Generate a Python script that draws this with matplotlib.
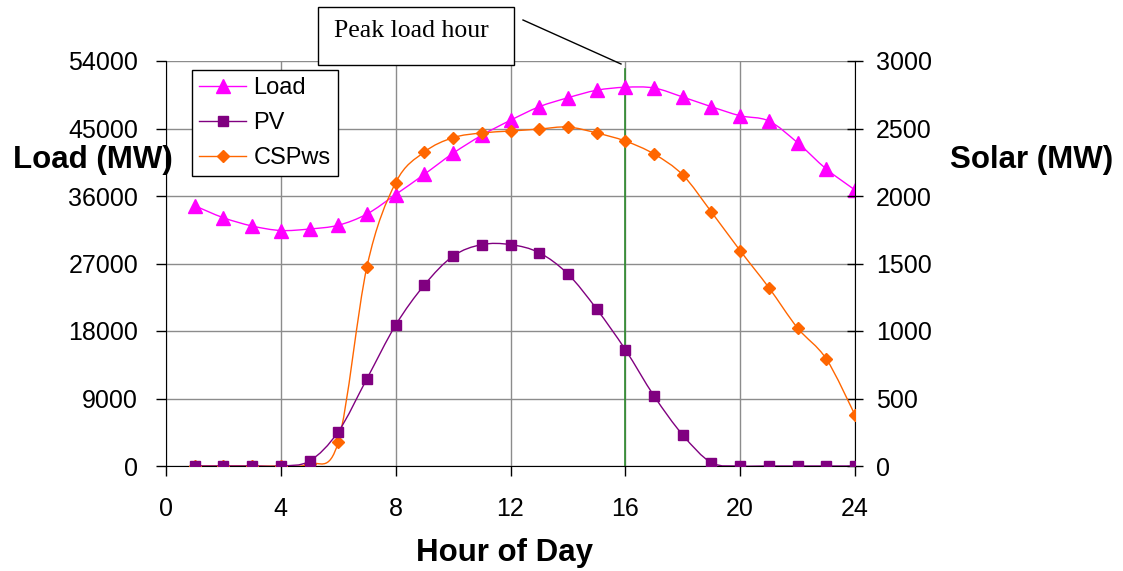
import numpy as np
import matplotlib.pyplot as plt
from matplotlib.path import Path
from matplotlib.patches import PathPatch, Rectangle
from matplotlib.lines import Line2D

plt.rcParams['font.family'] = ['Liberation Sans', 'DejaVu Sans']

hours = list(range(1, 25))
load = [34700, 33100, 32000, 31400, 31600, 32100, 33600, 36200, 38900, 41700,
        44100, 46100, 47900, 49100, 50100, 50500, 50400, 49200, 47900, 46700,
        46000, 43100, 39600, 36800]
pv = [0, 0, 0, 0, 37, 254, 647, 1044, 1341, 1555, 1640, 1640, 1580, 1422,
      1163, 862, 519, 230, 25, 0, 0, 0, 0, 0]
csp = [0, 0, 0, 0, 15, 178, 1477, 2099, 2326, 2432, 2467, 2481, 2496, 2511,
       2467, 2407, 2311, 2156, 1881, 1595, 1321, 1022, 793, 378]
peak_hour = 16

LOAD_C = '#FF00FF'
PV_C = '#800080'
CSP_C = '#FF6600'


def smooth_path(x, y):
    # Catmull-Rom style bezier through every point (like a spreadsheet "smoothed line")
    pts = np.column_stack([x, y]).astype(float)
    n = len(pts)
    verts = [pts[0]]
    codes = [Path.MOVETO]
    for i in range(n - 1):
        p0 = pts[i - 1] if i > 0 else pts[i]
        p1 = pts[i]
        p2 = pts[i + 1]
        p3 = pts[i + 2] if i + 2 < n else pts[i + 1]
        c1 = p1 + (p2 - p0) / 6.0
        c2 = p2 - (p3 - p1) / 6.0
        verts += [c1, c2, p2]
        codes += [Path.CURVE4] * 3
    return Path(verts, codes)


def draw_series(ax, x, y, color, marker, ms, z):
    ax.add_patch(PathPatch(smooth_path(x, y), facecolor='none', edgecolor=color,
                           lw=1.0, zorder=z))
    ax.plot(x, y, linestyle='none', marker=marker, color=color, ms=ms, zorder=z + 0.5)


W, H = 1123, 571
fig = plt.figure(figsize=(W / 100, H / 100), dpi=100)
ax = fig.add_axes([166 / W, 1 - 466 / H, 689 / W, 405 / H])
ax2 = ax.twinx()

ax.set_xlim(0, 24)
ax.set_ylim(0, 54000)
ax2.set_ylim(0, 3000)
ax.set_xticks(range(0, 25, 4))
ax.set_yticks(range(0, 54001, 9000))
ax2.set_yticks(range(0, 3001, 500))

ax.grid(True, color='#8c8c8c', lw=1.0)
ax.set_axisbelow(True)

for a in (ax, ax2):
    a.spines['top'].set_visible(False)
ax.spines['right'].set_visible(False)
ax2.spines['left'].set_visible(False)
ax2.spines['bottom'].set_visible(False)

ax.tick_params(axis='y', labelsize=18, length=7, width=1, direction='out', pad=13)
ax.tick_params(axis='x', labelsize=18, length=7, width=1, direction='out', pad=15)
ax2.tick_params(axis='y', labelsize=18, length=12, width=1, direction='inout', pad=9)

ax2.patch.set_visible(False)

draw_series(ax, hours, load, LOAD_C, '^', 9.5, 3)
draw_series(ax2, hours, csp, CSP_C, 'D', 6.5, 3)
draw_series(ax2, hours, pv, PV_C, 's', 6.5, 4)

ax.axvline(peak_hour, ymax=0.98, color='#2E8B2E', lw=1.2, zorder=2)

ax.text(0.01, 0.755, 'Load (MW)', transform=ax.transAxes, fontsize=22.5,
        fontweight='bold', ha='right', va='center')
ax.text(1.138, 0.755, 'Solar (MW)', transform=ax.transAxes, fontsize=22.5,
        fontweight='bold', ha='left', va='center')
fig.text(505 / W, 1 - 553 / H, 'Hour of Day', fontsize=22.5, fontweight='bold',
         ha='center', va='center')

# callout box with leader line to the peak hour
fig.add_artist(Rectangle((318 / W, 1 - 65 / H), 196 / W, 58 / H,
                         transform=fig.transFigure, fc='white', ec='black', lw=1))
fig.text(411 / W, 1 - 31 / H, 'Peak load hour', fontsize=18.5,
         family=['Liberation Serif'], ha='center', va='center')
fig.add_artist(Line2D([523 / W, 621 / W], [1 - 20 / H, 1 - 64 / H],
                      color='black', lw=1))

handles = [Line2D([], [], color=LOAD_C, marker='^', ms=9.5, lw=1),
           Line2D([], [], color=PV_C, marker='s', ms=6.5, lw=1),
           Line2D([], [], color=CSP_C, marker='D', ms=6.5, lw=1)]
leg = ax2.legend(handles, ['Load', 'PV', 'CSPws'], loc='upper left',
                 bbox_to_anchor=(0.0377, 0.978), fontsize=17, frameon=True,
                 fancybox=False, edgecolor='black', handlelength=2.0,
                 borderpad=0.3, labelspacing=0.55, handletextpad=0.3,
                 borderaxespad=0, framealpha=1)
leg.get_frame().set_linewidth(1)

fig.savefig('out.png', dpi=100)
